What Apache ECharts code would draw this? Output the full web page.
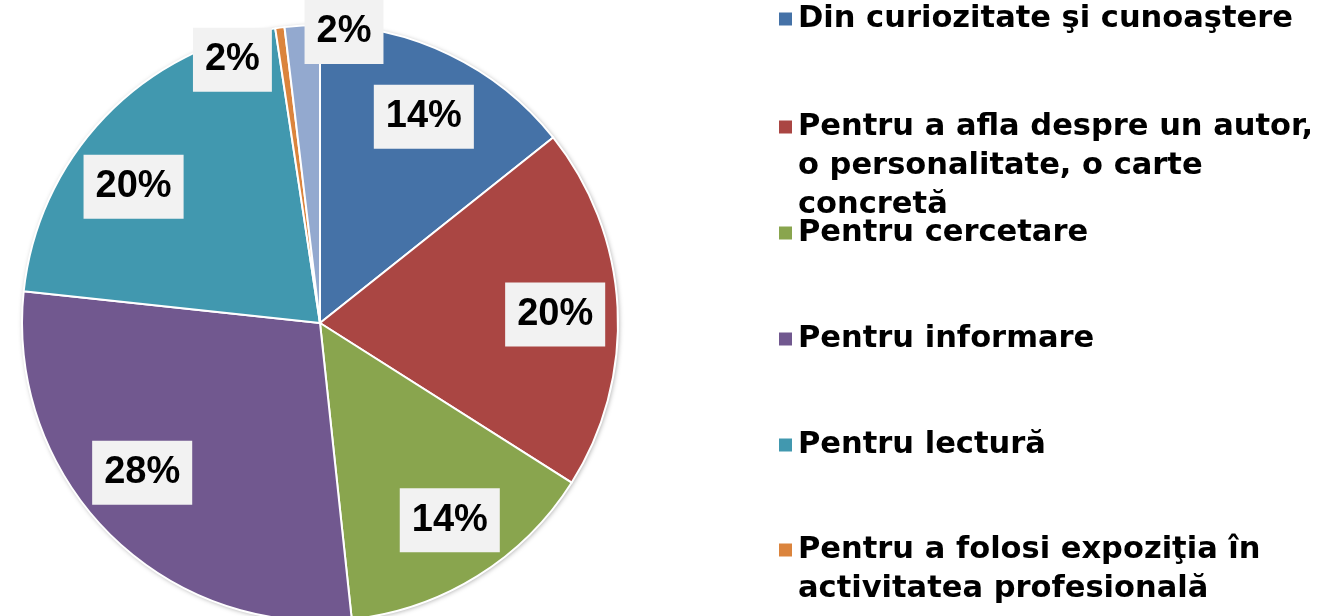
<!DOCTYPE html>
<html><head><meta charset="utf-8">
<script src="https://cdn.jsdelivr.net/npm/echarts@6/dist/echarts.min.js"></script>
<style>html,body{margin:0;padding:0;background:#fff}#c{width:1320px;height:616px}</style>
</head><body><div id="c"></div>
<script>
// ---- data ----
const categories = [
  "Din curiozitate şi cunoaştere",
  "Pentru a afla despre un autor,\no personalitate, o carte\nconcretă",
  "Pentru cercetare",
  "Pentru informare",
  "Pentru lectură",
  "Pentru a folosi expoziţia în\nactivitatea profesională",
  "Altele"
];
const sliceShares = [14.3, 19.7, 14.3, 28.4, 20.9, 0.5, 1.9];
const percentLabels = ["14%", "20%", "14%", "28%", "20%", "2%", "2%"];

// ---- style / layout ----
const colors = ["#4572A7", "#AA4643", "#89A54E", "#71588F", "#4198AF", "#DB843D", "#93A9CF"];
const CENTER = [320, 323];
const R = 298;
const labelOffsets = [[2, 5], [1, 4], [6, -2], [-12, -16], [-17, 26], [-56, -31], [38, -57]];
const legendMid = [19, 127, 233, 339, 445, 550];
const LH = 39;

const pieData = categories.map((n, i) => ({name: n, value: sliceShares[i], itemStyle: {color: colors[i]}}));
const labelData = categories.map((n, i) => ({name: n, value: sliceShares[i], label: {offset: labelOffsets[i]}}));

const legends = legendMid.map((mid, i) => {
  const lines = categories[i].split('\n').length;
  const blockH = (2 * lines - 1) * LH;
  return {
    data: [categories[i]], left: 777, top: mid - blockH / 2, padding: 0,
    orient: 'vertical', icon: 'rect', itemWidth: 15, itemHeight: 15, itemGap: 0, selectedMode: false,
    formatter: name => '\n'.repeat(lines - 1) + name,
    textStyle: {fontFamily: 'DejaVu Sans', fontWeight: 'bold', fontSize: 30.5, color: '#000', lineHeight: LH}
  };
});

const chart = echarts.init(document.getElementById('c'), null, {renderer: 'canvas'});
chart.setOption({
  animation: false,
  backgroundColor: '#fff',
  legend: legends,
  series: [
    {type: 'pie', center: CENTER, radius: R, silent: true, z: 1,
     itemStyle: {color: '#fff', shadowBlur: 5, shadowColor: 'rgba(0,0,0,0.35)', shadowOffsetX: 1, shadowOffsetY: 1},
     label: {show: false}, labelLine: {show: false}, data: [{name: '', value: 1}]},
    {type: 'pie', center: CENTER, radius: R, startAngle: 90, clockwise: true, z: 2,
     avoidLabelOverlap: false, silent: true,
     itemStyle: {borderColor: '#fff', borderWidth: 2},
     label: {show: false}, labelLine: {show: false}, data: pieData},
    {type: 'pie', center: CENTER, radius: [165, R], startAngle: 90, clockwise: true, z: 3,
     avoidLabelOverlap: false, silent: true, legendHoverLink: false,
     itemStyle: {color: 'rgba(0,0,0,0)', borderWidth: 0},
     label: {show: true, position: 'inside', formatter: p => percentLabels[p.dataIndex],
       fontFamily: 'Liberation Sans', fontWeight: 'bold', fontSize: 38, lineHeight: 38, color: '#000',
       backgroundColor: '#f2f2f2', padding: [14, 12, 12, 12]},
     labelLine: {show: false}, data: labelData}
  ]
});
</script></body></html>
